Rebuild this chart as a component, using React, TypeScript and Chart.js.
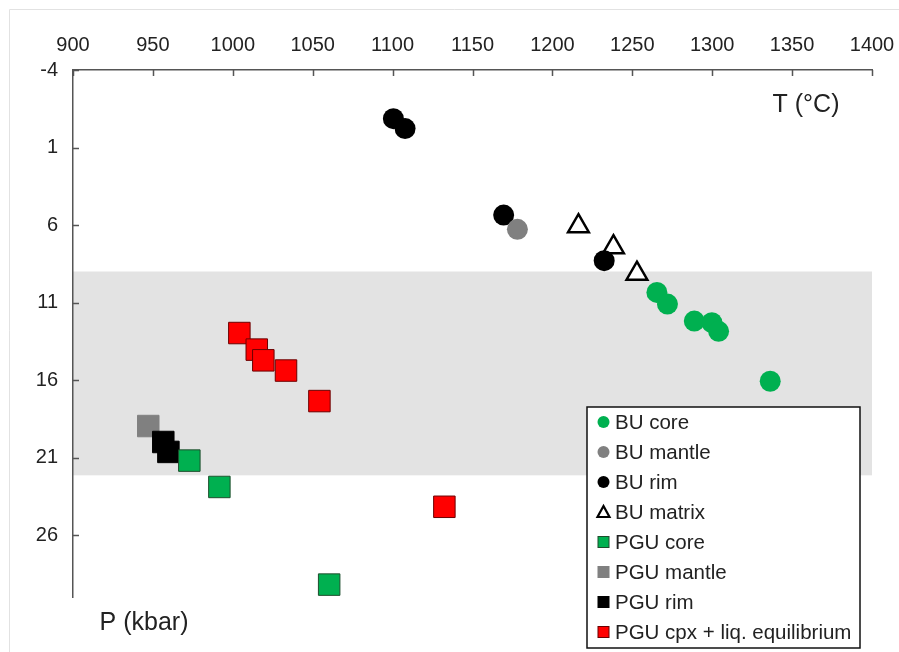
import React, { useEffect, useRef } from 'react';
import { Chart, registerables } from 'chart.js';

Chart.register(...registerables);

// ---- data ----
const xTickValues = [900, 950, 1000, 1050, 1100, 1150, 1200, 1250, 1300, 1350, 1400];
const yTickValues = [-4, 1, 6, 11, 16, 21, 26];
const bandRange = [9, 22.15];

const buCoreT = [1265.4, 1272, 1288.8, 1299.8, 1304, 1336.3];
const buCoreP = [10.35, 11.1, 12.2, 12.3, 12.86, 16.08];

const buMantleT = [1178.1];
const buMantleP = [6.28];

const buRimT = [1100.5, 1107.8, 1169.5, 1232.4];
const buRimP = [-0.86, -0.22, 5.36, 8.3];

const buMatrixT = [1216.3, 1238.2, 1252.9];
const buMatrixP = [6.08, 7.43, 9.14];

const pguCoreT = [972.8, 991.6, 1060.3];
const pguCoreP = [21.2, 22.9, 29.2];

const pguMantleT = [947.1];
const pguMantleP = [18.97];

const pguRimT = [956.5, 959.7];
const pguRimP = [20.0, 20.64];

const pguCpxT = [1004.1, 1015, 1019.1, 1033.3, 1054.2, 1132.4];
const pguCpxP = [12.97, 14.04, 14.73, 15.39, 17.36, 24.18];

const seriesLabels = [
  'BU core',
  'BU mantle',
  'BU rim',
  'BU matrix',
  'PGU core',
  'PGU mantle',
  'PGU rim',
  'PGU cpx + liq. equilibrium',
];

const xTitle = 'T (°C)';
const yTitle = 'P (kbar)';

const FONT = '"Liberation Sans", Arial, Helvetica, sans-serif';
const AXIS_COLOR = '#555555';
const TEXT_COLOR = '#222222';

const toPoints = (t: number[], p: number[]) => t.map((v, i) => ({ x: v, y: p[i] }));

const decorPlugin = {
  id: 'decor',
  beforeDraw(chart: any) {
    const ctx = chart.ctx;
    const { left, right } = chart.chartArea;
    const y = chart.scales.y;
    ctx.save();
    ctx.fillStyle = '#ffffff';
    ctx.fillRect(0, 0, chart.width, chart.height);
    // faint outer frame
    ctx.strokeStyle = '#e2e2e2';
    ctx.lineWidth = 1;
    ctx.beginPath();
    ctx.moveTo(9.5, chart.height);
    ctx.lineTo(9.5, 9.5);
    ctx.lineTo(chart.width, 9.5);
    ctx.stroke();
    // grey band
    const y1 = y.getPixelForValue(bandRange[0]);
    const y2 = y.getPixelForValue(bandRange[1]);
    ctx.fillStyle = '#e3e3e3';
    ctx.fillRect(left, Math.min(y1, y2), right - left, Math.abs(y2 - y1));
    ctx.restore();
  },
  afterDraw(chart: any) {
    const ctx = chart.ctx;
    const { left, top } = chart.chartArea;
    const xs = chart.scales.x;
    const ys = chart.scales.y;
    ctx.save();
    // inward tick marks
    ctx.strokeStyle = AXIS_COLOR;
    ctx.lineWidth = 1.5;
    ctx.beginPath();
    xTickValues.forEach((v) => {
      const px = Math.round(xs.getPixelForValue(v)) + 0.5;
      ctx.moveTo(px, top);
      ctx.lineTo(px, top + 6);
    });
    yTickValues.forEach((v) => {
      const py = Math.round(ys.getPixelForValue(v)) + 0.5;
      ctx.moveTo(left, py);
      ctx.lineTo(left + 6, py);
    });
    ctx.stroke();

    // axis titles
    ctx.fillStyle = TEXT_COLOR;
    ctx.font = `25px ${FONT}`;
    ctx.textAlign = 'center';
    ctx.textBaseline = 'middle';
    ctx.fillText(xTitle, 806, 105);
    ctx.fillText(yTitle, 144, 623);

    // legend
    const bx = 587, by = 407, bw = 273, bh = 241;
    ctx.fillStyle = '#ffffff';
    ctx.fillRect(bx, by, bw, bh);
    ctx.strokeStyle = '#111111';
    ctx.lineWidth = 1.5;
    ctx.strokeRect(bx, by, bw, bh);
    ctx.font = `20.5px ${FONT}`;
    ctx.textAlign = 'left';
    ctx.textBaseline = 'middle';
    chart.data.datasets.forEach((ds: any, i: number) => {
      const cy = by + 15 + i * 30;
      const cx = 603.5;
      ctx.save();
      if (ds.pointStyle === 'circle') {
        ctx.fillStyle = ds.backgroundColor;
        ctx.beginPath();
        ctx.arc(cx, cy, 6, 0, Math.PI * 2);
        ctx.fill();
      } else if (ds.pointStyle === 'triangle') {
        ctx.strokeStyle = ds.borderColor;
        ctx.fillStyle = ds.backgroundColor;
        ctx.lineWidth = 2.2;
        ctx.beginPath();
        ctx.moveTo(cx, cy - 6);
        ctx.lineTo(cx + 6, cy + 5);
        ctx.lineTo(cx - 6, cy + 5);
        ctx.closePath();
        ctx.fill();
        ctx.stroke();
      } else {
        ctx.fillStyle = ds.backgroundColor;
        ctx.fillRect(cx - 5.5, cy - 5.5, 11, 11);
        ctx.strokeStyle = ds.borderColor;
        ctx.lineWidth = 1;
        ctx.strokeRect(cx - 5.5, cy - 5.5, 11, 11);
      }
      ctx.restore();
      ctx.fillStyle = TEXT_COLOR;
      ctx.fillText(ds.label, 615, cy + 1);
    });
    ctx.restore();
  },
};

export default function App() {
  const canvasRef = useRef<HTMLCanvasElement | null>(null);

  useEffect(() => {
    const canvas = canvasRef.current;
    if (!canvas) return;
    const circle = (label: string, t: number[], p: number[], color: string, order: number) => ({
      label,
      data: toPoints(t, p),
      pointStyle: 'circle',
      pointRadius: 10.5,
      backgroundColor: color,
      borderColor: color,
      borderWidth: 0,
      order,
    });
    const square = (label: string, t: number[], p: number[], color: string, border: string, order: number) => ({
      label,
      data: toPoints(t, p),
      pointStyle: 'rect',
      pointRadius: 15.2,
      backgroundColor: color,
      borderColor: border,
      borderWidth: 1,
      order,
    });
    const chart = new Chart(canvas, {
      type: 'scatter',
      data: {
        datasets: [
          circle(seriesLabels[0], buCoreT, buCoreP, '#00b050', 0),
          circle(seriesLabels[1], buMantleT, buMantleP, '#808080', 1),
          circle(seriesLabels[2], buRimT, buRimP, '#000000', 2),
          {
            label: seriesLabels[3],
            data: toPoints(buMatrixT, buMatrixP),
            pointStyle: 'triangle',
            pointRadius: 12,
            backgroundColor: '#ffffff',
            borderColor: '#000000',
            borderWidth: 2.5,
            order: 3,
          },
          square(seriesLabels[4], pguCoreT, pguCoreP, '#00b050', '#1d4d2c', 4),
          square(seriesLabels[5], pguMantleT, pguMantleP, '#808080', '#808080', 6),
          square(seriesLabels[6], pguRimT, pguRimP, '#000000', '#000000', 5),
          square(seriesLabels[7], pguCpxT, pguCpxP, '#ff0000', '#6b0000', 7),
        ] as any,
      },
      options: {
        responsive: false,
        animation: false,
        devicePixelRatio: 1,
        layout: { padding: { left: 0, top: 0, right: 27, bottom: 55 } },
        plugins: {
          legend: { display: false },
          tooltip: { enabled: false },
        },
        elements: { point: { hoverRadius: 0 } },
        scales: {
          x: {
            type: 'linear',
            position: 'top',
            min: 900,
            max: 1400,
            grid: { display: false, drawTicks: false },
            border: { display: true, color: AXIS_COLOR, width: 1.5 },
            ticks: {
              padding: 13,
              color: TEXT_COLOR,
              font: { size: 20, family: FONT },
              autoSkip: false,
              maxRotation: 0,
              callback: (v: any) => String(v),
            },
            afterBuildTicks: (s: any) => {
              s.ticks = xTickValues.map((v) => ({ value: v }));
            },
            afterFit: (s: any) => {
              s.height = 70;
              s.paddingLeft = 0;
              s.paddingRight = 0;
            },
          },
          y: {
            type: 'linear',
            reverse: true,
            min: -4,
            max: 30,
            grid: { display: false, drawTicks: false },
            border: { display: true, color: AXIS_COLOR, width: 1.5 },
            ticks: {
              padding: 15,
              color: TEXT_COLOR,
              font: { size: 20, family: FONT },
              autoSkip: false,
              callback: (v: any) => String(v),
            },
            afterBuildTicks: (s: any) => {
              s.ticks = yTickValues.map((v) => ({ value: v }));
            },
            afterFit: (s: any) => {
              s.width = 73;
              s.paddingTop = 0;
              s.paddingBottom = 0;
            },
          },
        },
      } as any,
      plugins: [decorPlugin],
    });
    return () => chart.destroy();
  }, []);

  return (
    <div style={{ position: 'fixed', left: 0, top: 0, width: 899, height: 652, background: '#fff' }}>
      <canvas ref={canvasRef} width={899} height={652} style={{ display: 'block', width: 899, height: 652 }} />
    </div>
  );
}
